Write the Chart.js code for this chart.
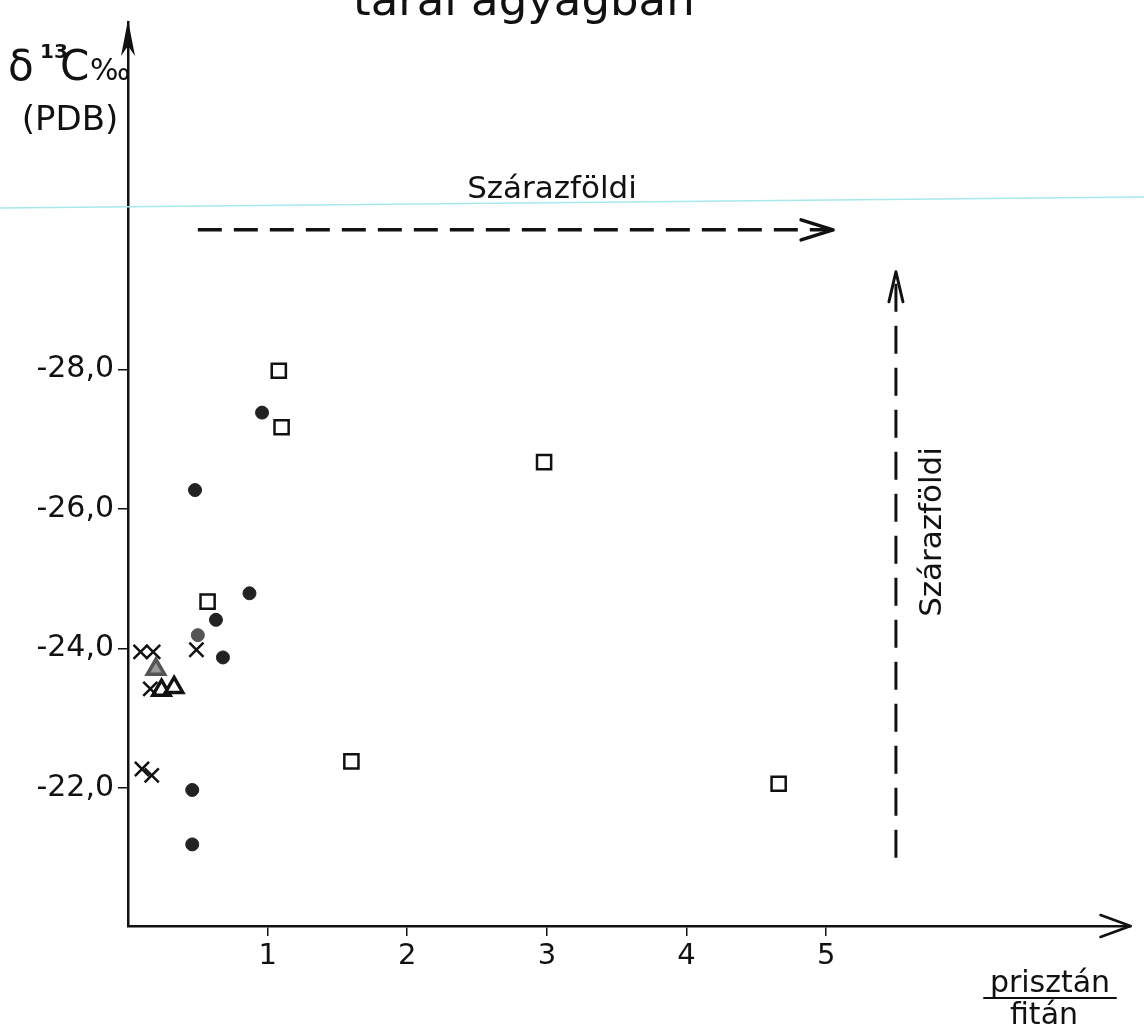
<!DOCTYPE html>
<html>
<head>
<meta charset="utf-8">
<script src="https://cdn.jsdelivr.net/npm/chart.js@4"></script>
<style>
  html, body { margin: 0; padding: 0; background: #fff; }
  #wrap { width: 1144px; height: 1026px; }
</style>
</head>
<body>
<div id="wrap"><canvas id="chart" width="1144" height="1026"></canvas></div>
<script>
// prisztán/fitán (x) vs δ13C ‰ PDB (y)
const squareX = [1.08, 1.10, 2.98, 0.57, 1.60, 4.66];
const squareY = [-27.98, -27.17, -26.67, -24.67, -22.38, -22.06];
const circleX = [0.96, 0.48, 0.87, 0.63, 0.50, 0.68, 0.46, 0.46];
const circleY = [-27.38, -26.27, -24.79, -24.41, -24.19, -23.87, -21.97, -21.19];
const crossX = [0.09, 0.18, 0.49, 0.16, 0.10, 0.17];
const crossY = [-23.95, -23.95, -23.98, -23.42, -22.27, -22.18];
const triangleX = [0.20, 0.24, 0.33];
const triangleY = [-23.70, -23.40, -23.44];

const xTicks = [1, 2, 3, 4, 5];
const yTicks = [-28, -26, -24, -22];

// "Szárazföldi" dashed arrows
const arrowHX = [0.5, 5.05];
const arrowHY = [-30, -30];
const arrowVX = [5.5, 5.5];
const arrowVY = [-21, -29.4];

const FONT = "'DejaVu Sans', 'Noto Sans', sans-serif";
const INK = '#111';

const pts = (xs, ys) => xs.map((x, i) => ({ x: x, y: ys[i] }));

// arrow heads, axis titles and labels
const extras = {
  id: 'extras',
  afterDraw(chart) {
    const ctx = chart.ctx;
    const xs = chart.scales.x, ys = chart.scales.y;
    const area = chart.chartArea;
    ctx.save();

    // scan line
    ctx.strokeStyle = '#a6e8ec';
    ctx.lineWidth = 1.5;
    ctx.beginPath(); ctx.moveTo(0, 208); ctx.lineTo(1144, 197); ctx.stroke();

    ctx.strokeStyle = INK;
    ctx.fillStyle = INK;
    ctx.lineCap = 'round';
    ctx.lineJoin = 'round';

    // y axis arrow head
    const ax = area.left;
    ctx.beginPath();
    ctx.moveTo(ax, area.top - 2);
    ctx.lineTo(ax - 7, area.top + 34);
    ctx.lineTo(ax, area.top + 24);
    ctx.lineTo(ax + 7, area.top + 34);
    ctx.closePath();
    ctx.fill();

    // x axis arrow head
    const by = area.bottom;
    ctx.lineWidth = 2.5;
    ctx.beginPath();
    ctx.moveTo(area.right - 30, by - 11);
    ctx.lineTo(area.right, by);
    ctx.lineTo(area.right - 30, by + 11);
    ctx.stroke();

    // horizontal dashed arrow head
    const hx = xs.getPixelForValue(arrowHX[1]), hy = ys.getPixelForValue(arrowHY[1]);
    ctx.lineWidth = 3.5;
    ctx.beginPath();
    ctx.moveTo(hx - 32, hy - 10);
    ctx.lineTo(hx, hy);
    ctx.lineTo(hx - 32, hy + 10);
    ctx.stroke();

    // vertical dashed arrow head
    const vx = xs.getPixelForValue(arrowVX[1]), vy = ys.getPixelForValue(arrowVY[1]);
    ctx.lineWidth = 3;
    ctx.beginPath();
    ctx.moveTo(vx - 7, vy + 30);
    ctx.lineTo(vx, vy);
    ctx.lineTo(vx + 7, vy + 30);
    ctx.stroke();

    // title (cut off at the top of the page)
    ctx.textBaseline = 'alphabetic';
    ctx.textAlign = 'left';
    ctx.font = '45px ' + FONT;
    ctx.fillText('tarai agyagban', 353, 15);

    // y axis title
    ctx.font = '42px ' + FONT;
    ctx.fillText('δ', 8, 80);
    ctx.font = 'bold 20px ' + FONT;
    ctx.fillText('13', 40, 58);
    ctx.font = '42px ' + FONT;
    ctx.fillText('C', 60, 80);
    ctx.font = '30px ' + FONT;
    ctx.fillText('‰', 90, 80);
    ctx.textAlign = 'center';
    ctx.font = '34px ' + FONT;
    ctx.fillText('(PDB)', 70, 130);

    // x axis title
    ctx.font = '30px ' + FONT;
    ctx.fillText('prisztán', 1050, 992);
    ctx.lineWidth = 2;
    ctx.beginPath(); ctx.moveTo(984, 998); ctx.lineTo(1116, 998); ctx.stroke();
    ctx.fillText('fitán', 1044, 1024);

    // arrow labels
    ctx.font = '31px ' + FONT;
    ctx.fillText('Szárazföldi', 552, 198);
    ctx.translate(941, 532);
    ctx.rotate(-Math.PI / 2);
    ctx.fillText('Szárazföldi', 0, 0);

    ctx.restore();
  }
};

const ctx = document.getElementById('chart').getContext('2d');
new Chart(ctx, {
  type: 'scatter',
  data: {
    datasets: [
      {
        label: 'Szárazföldi vízszintes',
        data: pts(arrowHX, arrowHY),
        showLine: true, borderColor: INK, borderWidth: 3.5,
        borderDash: [24, 12], pointRadius: 0, order: 5
      },
      {
        label: 'Szárazföldi függőleges',
        data: pts(arrowVX, arrowVY),
        showLine: true, borderColor: INK, borderWidth: 3,
        borderDash: [28, 14], pointRadius: 0, order: 5
      },
      {
        label: 'négyzet',
        data: pts(squareX, squareY),
        pointStyle: 'rect', pointRadius: 10,
        backgroundColor: '#fff', borderColor: INK, borderWidth: 2.5
      },
      {
        label: 'kör',
        data: pts(circleX, circleY),
        pointStyle: 'circle', pointRadius: 6.5,
        backgroundColor: ['#222', '#222', '#222', '#222', '#555', '#222', '#222', '#222'],
        borderColor: ['#222', '#222', '#222', '#222', '#555', '#222', '#222', '#222'],
        borderWidth: 1
      },
      {
        label: 'kereszt',
        data: pts(crossX, crossY),
        pointStyle: 'crossRot', pointRadius: 10,
        borderColor: INK, borderWidth: 2.5
      },
      {
        label: 'háromszög',
        data: pts(triangleX, triangleY),
        pointStyle: 'triangle', pointRadius: 10,
        backgroundColor: ['#999', '#fff', '#fff'],
        borderColor: ['#555', INK, INK], borderWidth: 3.5
      }
    ]
  },
  options: {
    responsive: false,
    animation: false,
    layout: { padding: { top: 10, right: 4, left: 0, bottom: 0 } },
    plugins: { legend: { display: false }, tooltip: { enabled: false } },
    scales: {
      x: {
        type: 'linear', min: 0, max: 7.18,
        afterFit: s => { s.height = 100; },
        afterBuildTicks: s => { s.ticks = xTicks.map(v => ({ value: v })); },
        grid: { drawOnChartArea: false, drawTicks: true, tickLength: 10, color: INK, lineWidth: 1.5 },
        border: { color: INK, width: 2.5 },
        ticks: { color: INK, font: { family: FONT, size: 29 }, padding: 3, maxRotation: 0 }
      },
      y: {
        type: 'linear', reverse: true, min: -32.98, max: -20.02,
        afterFit: s => { s.width = 128; },
        afterBuildTicks: s => { s.ticks = yTicks.map(v => ({ value: v })); },
        grid: { drawOnChartArea: false, drawTicks: true, tickLength: 10, color: INK, lineWidth: 1.5 },
        border: { color: INK, width: 2.5 },
        ticks: {
          color: INK, font: { family: FONT, size: 30 }, padding: 4,
          callback: v => v.toFixed(1).replace('.', ',')
        }
      }
    }
  },
  plugins: [extras]
});
</script>
</body>
</html>
